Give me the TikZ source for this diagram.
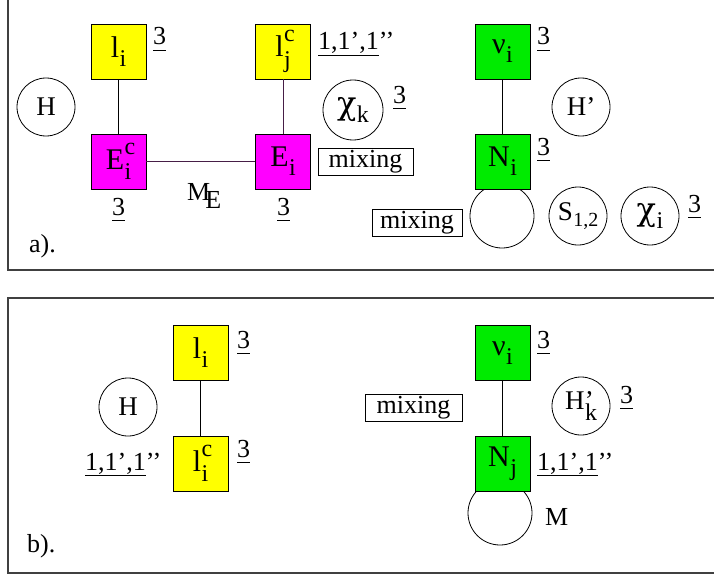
\documentclass[tikz,border=0pt]{standalone}
\usepackage{fontspec}
\setmainfont{Liberation Serif}
\newfontfamily\grk{DejaVu Serif}
\definecolor{ylw}{RGB}{255,255,0}
\definecolor{mag}{RGB}{255,0,255}
\definecolor{grn}{RGB}{0,235,0}
\definecolor{dpurp}{RGB}{70,30,70}
\newcommand{\scrf}{\fontsize{24}{24}\selectfont}
\newcommand{\bsub}[2]{#1\kern0.5pt\raisebox{-0.3em}{\scrf #2}}
\newcommand{\bsupsub}[3]{#1\kern0.5pt\rlap{\raisebox{0.5em}{\scrf #2}}\raisebox{-0.35em}{\scrf #3}}
\newcommand{\chiL}{{\grk\fontsize{32}{32}\selectfont χ}}
\newsavebox\ulbox
\newcommand{\ul}[1]{\sbox\ulbox{#1}\rlap{\rule[-6pt]{\wd\ulbox}{0.9pt}}\usebox\ulbox}
\begin{document}
\begin{tikzpicture}[x=1pt,y=-1pt,
  box/.style={draw=black, line width=0.9pt, minimum size=55pt, inner sep=0pt, font=\fontsize{30}{30}\selectfont},
  ybox/.style={box, fill=ylw},
  mbox/.style={box, fill=mag},
  gbox/.style={box, fill=grn},
  circ/.style={draw, circle, line width=0.8pt, minimum size=58pt, inner sep=0pt, font=\fontsize{27}{27}\selectfont},
  loopc/.style={draw, circle, line width=0.8pt, minimum size=64pt, inner sep=0pt},
  mix/.style={draw, line width=0.7pt, minimum height=27pt, inner sep=0pt, font=\fontsize{26}{26}\selectfont},
  txt/.style={inner sep=0pt, anchor=base west, font=\fontsize{26}{26}\selectfont},
  frame/.style={draw=black!75, line width=1.5pt},
  link/.style={line width=0.9pt}
]
\useasboundingbox (0,0) rectangle (714,575);
% frames
\draw[frame] (8,-5) rectangle (718,270);
\draw[frame] (8,298) rectangle (718,573);

% ---------- panel a ----------
\node[loopc] (loopA) at (502,216) {};
\node[ybox] (li) at (118.5,51.5) {\bsub{l}{i}};
\node[ybox] (ljc) at (283,51.5) {\bsupsub{l}{c}{j}};
\node[mbox] (Eic) at (118.5,161.5) {\bsupsub{E}{c}{i}};
\node[mbox] (Ei) at (283,161.5) {\bsub{E}{i}};
\node[gbox] (nui) at (502.5,51.5) {\bsub{ν}{i}};
\node[gbox] (Ni) at (502.5,161.5) {\bsub{N}{i}};

\node[circ] (H) at (46,107) {H};
\node[circ, minimum size=60pt] (chik) at (353,110) {\bsub{\chiL}{k}};
\node[circ] (Hp) at (581,107) {H’};
\node[circ] (S12) at (578,216) {S\kern0.5pt\raisebox{-0.22em}{\fontsize{20}{20}\selectfont 1,2}};
\node[circ] (chii) at (650,216) {\bsub{\chiL}{i}};

\node[mix, minimum width=95pt] (mixA) at (365.5,161.5) {mixing};
\node[mix, minimum width=90pt] (mixB) at (417,222.5) {mixing};

\draw[link] (li) -- (Eic);
\draw[link, dpurp] (Eic) -- (Ei);
\draw[link, dpurp] (ljc) -- (Ei);
\draw[link] (nui) -- (Ni);

\node[txt] (a1) at (153,45) {\ul{3}};
\node[txt] (a2) at (318,50) {\ul{1,1’,1}’’};
\node[txt] (a3) at (393,103) {\ul{3}};
\node[txt] (a4) at (112,215) {\ul{3}};
\node[txt] (a5) at (277,215) {\ul{3}};
\node[txt] (a6) at (537,45) {\ul{3}};
\node[txt] (a7) at (537,155) {\ul{3}};
\node[txt] (a8) at (688,212) {\ul{3}};
\node[txt] (ME) at (187,200) {M\kern-5pt\raisebox{-8pt}{E}};
\node[txt] (alab) at (29,252) {a).};

% ---------- panel b ----------
\node[loopc] (loopB) at (500,513) {};
\node[ybox] (li2) at (200.5,353) {\bsub{l}{i}};
\node[ybox] (lic2) at (200.5,463.5) {\bsupsub{l}{c}{i}};
\node[gbox] (nui2) at (502.5,353) {\bsub{ν}{i}};
\node[gbox] (Nj) at (502.5,463.5) {\bsub{N}{j}};

\node[circ] (H2) at (128,407) {H};
\node[circ] (Hk) at (581,406) {H\kern0.5pt\rlap{’}\raisebox{-0.4em}{\fontsize{24}{24}\selectfont k}};
\node[mix, minimum width=97pt] (mixC) at (413.5,408) {mixing};

\draw[link] (li2) -- (lic2);
\draw[link] (nui2) -- (Nj);

\node[txt] (b1) at (237,348) {\ul{3}};
\node[txt] (b2) at (237,457) {\ul{3}};
\node[txt] (b3) at (85,470) {\ul{1,1’,1}’’};
\node[txt] (b4) at (537,348) {\ul{3}};
\node[txt] (b5) at (620,403) {\ul{3}};
\node[txt] (b6) at (537,470) {\ul{1,1’,1}’’};
\node[txt] (b7) at (545,525) {M};
\node[txt] (blab) at (27,552) {b).};
\end{tikzpicture}
\end{document}
